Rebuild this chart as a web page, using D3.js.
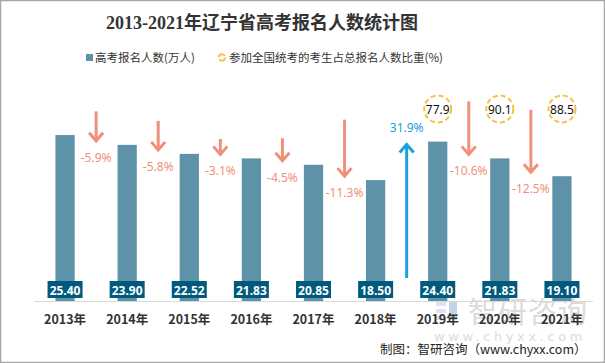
<!DOCTYPE html>
<html><head><meta charset="utf-8">
<script src="https://cdn.jsdelivr.net/npm/d3@7/dist/d3.min.js"></script>
<style>body{margin:0;background:#fff}svg{display:block}</style>
</head><body><svg id="c" width="605" height="363"></svg>
<script>
const years = ["2013年","2014年","2015年","2016年","2017年","2018年","2019年","2020年","2021年"];
const applicants = [25.40, 23.90, 22.52, 21.83, 20.85, 18.50, 24.40, 21.83, 19.10];
const changes = [-5.9, -5.8, -3.1, -4.5, -11.3, 31.9, -10.6, -12.5];
const shareYears = ["2019年","2020年","2021年"];
const shares = [77.9, 90.1, 88.5];

const svg = d3.select("#c");
const W = 605, H = 363;
svg.append("rect").attr("x",0.5).attr("y",0.5).attr("width",W-1).attr("height",H-1)
  .attr("fill","#fff").attr("stroke","#a6a6a6").attr("stroke-width",1.5);

const x = d3.scaleBand().domain(years).range([34, 593]).paddingInner(0.69).paddingOuter(0.345);
const y = d3.scaleLinear().domain([0, 30]).range([301, 105]);
const arrowLen = d3.scaleLinear().domain([0, 10]).range([0, 50]);

// watermark (behind)
const wm = svg.append("g").attr("opacity",0.45);
wm.append("rect").attr("x",436).attr("y",302).attr("width",10).attr("height",4).attr("fill","#b8c4d8");
wm.append("rect").attr("x",436).attr("y",309).attr("width",10).attr("height",4).attr("fill","#b8c4d8");
wm.append("rect").attr("x",436).attr("y",316).attr("width",10).attr("height",4).attr("fill","#b8c4d8");
wm.append("rect").attr("x",449).attr("y",302).attr("width",8).attr("height",18).attr("fill","#7f9ccc");
wm.append("text").attr("x",468).attr("y",323).attr("font-family","'Noto Sans CJK SC',sans-serif")
  .attr("font-size",29).attr("fill","#b0b0b0").attr("letter-spacing",1).text("智研咨询");
wm.append("text").attr("x",434).attr("y",341).attr("font-family","'DejaVu Sans',sans-serif")
  .attr("font-size",13).attr("fill","#b0b0b0").attr("letter-spacing",3.6).text("www.chyxx.com");

// title
svg.append("text").attr("x", 262).attr("y", 29).attr("text-anchor","middle")
  .attr("font-family","'Liberation Serif','Noto Sans CJK SC',serif")
  .attr("font-size",18).attr("font-weight","bold").attr("fill","#333")
  .text("2013-2021年辽宁省高考报名人数统计图");

// legend
const lg = svg.append("g").attr("font-family","'Noto Sans CJK SC',sans-serif").attr("font-size",11.5).attr("fill","#333");
lg.append("rect").attr("x",86).attr("y",54).attr("width",7).attr("height",7).attr("fill","#5e92a8");
lg.append("text").attr("x",95).attr("y",62).text("高考报名人数(万人)");
lg.append("circle").attr("cx",222).attr("cy",57.5).attr("r",3.2).attr("fill","none")
  .attr("stroke","#f5c242").attr("stroke-width",2).attr("stroke-dasharray","8 2");
lg.append("text").attr("x",229).attr("y",62).text("参加全国统考的考生占总报名人数比重(%)");

// axis line
svg.append("line").attr("x1",34).attr("x2",593).attr("y1",y(0)+0.5).attr("y2",y(0)+0.5)
  .attr("stroke","#d9d9d9").attr("stroke-width",1);

// bars
svg.selectAll("rect.bar").data(years).join("rect").attr("class","bar")
  .attr("x", d => x(d)).attr("width", x.bandwidth())
  .attr("y", (d,i) => y(applicants[i])).attr("height", (d,i) => y(0) - y(applicants[i]))
  .attr("fill","#5e92a8");

// value labels
const vl = svg.selectAll("g.vl").data(years).join("g").attr("class","vl")
  .attr("transform", d => `translate(${x(d)+x.bandwidth()/2},${y(0)-11})`);
vl.append("rect").attr("x",-17.5).attr("y",-9).attr("width",35).attr("height",17).attr("fill","#005a7d");
vl.append("text").attr("text-anchor","middle").attr("y",4.5)
  .attr("font-family","'Noto Sans','DejaVu Sans',sans-serif").attr("font-size",12).attr("font-weight","bold")
  .attr("fill","#fff").text((d,i) => applicants[i].toFixed(2));

// x labels
svg.selectAll("text.xl").data(years).join("text").attr("class","xl")
  .attr("x", d => x(d)+x.bandwidth()/2).attr("y", 324).attr("text-anchor","middle")
  .attr("font-family","'Noto Sans CJK SC',sans-serif").attr("font-size",12.5).attr("font-weight","bold")
  .attr("fill","#333").text(d => d);

// change arrows
const step = x.step();
changes.forEach((c, i) => {
  const cx = x(years[i]) + x.bandwidth()/2 + step/2;
  const nextTop = y(applicants[i+1]);
  const g = svg.append("g");
  if (c < 0) {
    const col = "#f0907a";
    const bottom = nextTop - 4;
    const top = bottom - arrowLen(-c);
    g.append("line").attr("x1",cx).attr("x2",cx).attr("y1",top).attr("y2",bottom)
      .attr("stroke",col).attr("stroke-width",3);
    g.append("path").attr("d",`M${cx-7},${bottom-8}L${cx},${bottom}L${cx+7},${bottom-8}`)
      .attr("fill","none").attr("stroke",col).attr("stroke-width",3);
    g.append("text").attr("x",cx).attr("y",bottom+21).attr("text-anchor","middle")
      .attr("font-family","'Noto Sans','DejaVu Sans',sans-serif").attr("font-size",12)
      .attr("fill",col).text(c.toFixed(1)+"%");
  } else {
    const col = "#1aa0dc";
    const top = nextTop + 3;
    const bottom = y(0) - 23;
    g.append("line").attr("x1",cx).attr("x2",cx).attr("y1",top).attr("y2",bottom)
      .attr("stroke",col).attr("stroke-width",3);
    g.append("path").attr("d",`M${cx-7},${top+8}L${cx},${top}L${cx+7},${top+8}`)
      .attr("fill","none").attr("stroke",col).attr("stroke-width",3);
    g.append("text").attr("x",cx).attr("y",top-13).attr("text-anchor","middle")
      .attr("font-family","'Noto Sans','DejaVu Sans',sans-serif").attr("font-size",12)
      .attr("fill",col).text(c.toFixed(1)+"%");
  }
});

// share circles
const sg = svg.selectAll("g.sh").data(shareYears).join("g").attr("class","sh")
  .attr("transform", d => `translate(${x(d)+x.bandwidth()/2},109)`);
sg.append("circle").attr("r",13.5).attr("fill","#fff").attr("stroke","#f5c242")
  .attr("stroke-width",2).attr("stroke-dasharray","5 3");
sg.append("text").attr("text-anchor","middle").attr("y",4.5)
  .attr("font-family","'Noto Sans','DejaVu Sans',sans-serif").attr("font-size",12)
  .attr("fill","#111").text((d,i) => shares[i].toFixed(1));

// source
svg.append("text").attr("x",380).attr("y",354)
  .attr("font-family","'Noto Sans CJK SC',sans-serif").attr("font-size",12.5).attr("fill","#222")
  .text("制图：智研咨询（www.chyxx.com）");
</script></body></html>
